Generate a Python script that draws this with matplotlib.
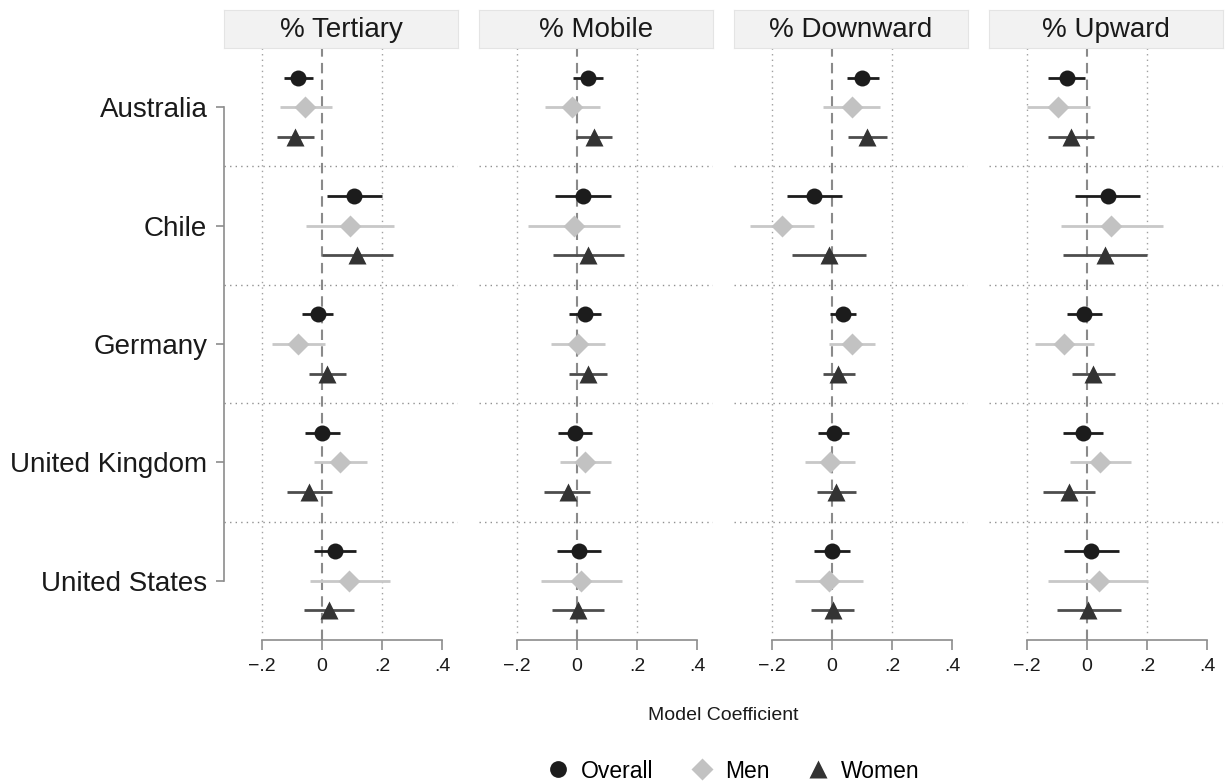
import numpy as np
import matplotlib.pyplot as plt
from matplotlib.lines import Line2D

plt.rcParams['font.family'] = ['Liberation Sans', 'DejaVu Sans']

# ===================== Data =====================
countries = ["Australia", "Chile", "Germany", "United Kingdom", "United States"]
groups = ["Overall", "Men", "Women"]
panels = ["% Tertiary", "% Mobile", "% Downward", "% Upward"]
xticks = [-0.2, 0.0, 0.2, 0.4]
xtick_labels = ["\u2212.2", "0", ".2", ".4"]

# values ordered by country, then overall / men / women
tertiary_est = [-0.079, -0.056, -0.089, 0.107, 0.092, 0.116, -0.014, -0.079, 0.017,
                0.000, 0.060, -0.043, 0.043, 0.091, 0.022]
tertiary_lo = [-0.128, -0.142, -0.149, 0.016, -0.054, 0.001, -0.066, -0.168, -0.044,
               -0.056, -0.028, -0.118, -0.028, -0.042, -0.062]
tertiary_hi = [-0.030, 0.033, -0.028, 0.200, 0.240, 0.236, 0.037, 0.010, 0.081,
               0.059, 0.149, 0.032, 0.114, 0.227, 0.107]

mobile_est = [0.036, -0.016, 0.056, 0.019, -0.010, 0.038, 0.026, 0.003, 0.036,
              -0.007, 0.028, -0.031, 0.006, 0.013, 0.002]
mobile_lo = [-0.014, -0.106, -0.003, -0.074, -0.162, -0.081, -0.026, -0.086, -0.028,
             -0.064, -0.058, -0.109, -0.066, -0.119, -0.082]
mobile_hi = [0.086, 0.076, 0.116, 0.113, 0.142, 0.158, 0.079, 0.093, 0.100,
             0.051, 0.114, 0.043, 0.080, 0.150, 0.089]

downward_est = [0.101, 0.066, 0.117, -0.059, -0.168, -0.010, 0.036, 0.066, 0.020,
                0.006, -0.007, 0.013, -0.002, -0.012, 0.003]
downward_lo = [0.048, -0.029, 0.052, -0.152, -0.273, -0.133, -0.006, -0.011, -0.032,
               -0.046, -0.090, -0.052, -0.062, -0.124, -0.070]
downward_hi = [0.156, 0.161, 0.183, 0.034, -0.061, 0.114, 0.080, 0.142, 0.076,
               0.056, 0.076, 0.080, 0.058, 0.103, 0.073]

upward_est = [-0.068, -0.098, -0.054, 0.069, 0.081, 0.059, -0.010, -0.077, 0.020,
              -0.013, 0.044, -0.059, 0.013, 0.038, 0.003]
upward_lo = [-0.130, -0.202, -0.130, -0.040, -0.088, -0.080, -0.068, -0.174, -0.050,
             -0.079, -0.058, -0.146, -0.077, -0.131, -0.102]
upward_hi = [-0.008, 0.008, 0.022, 0.176, 0.252, 0.199, 0.048, 0.022, 0.094,
             0.052, 0.146, 0.026, 0.106, 0.204, 0.112]

est_all = [tertiary_est, mobile_est, downward_est, upward_est]
lo_all = [tertiary_lo, mobile_lo, downward_lo, upward_lo]
hi_all = [tertiary_hi, mobile_hi, downward_hi, upward_hi]

# ===================== Styles =====================
marker_color = ['#1c1c1c', '#c2c2c2', '#333333']
line_color = ['#1c1c1c', '#c8c8c8', '#4d4d4d']
markers = ['o', 'D', '^']
msizes = [11.5, 11, 13]
axis_gray = '#8c8c8c'

W, H = 1229, 784
fig = plt.figure(figsize=(W / 100, H / 100), dpi=100)

y_top, y_bot = 48, 640
strip_top = 10
panel_w = 234
n_groups = len(groups)

for p, title in enumerate(panels):
    left = 224 + 255 * p
    ax = fig.add_axes([left / W, 1 - y_bot / H, panel_w / W, (y_bot - y_top) / H])
    ax.set_xlim(-0.327, 0.453)
    ax.set_ylim(20, 0)

    # grid / reference lines
    for gx in [-0.2, 0.2]:
        ax.plot([gx, gx], [0, 19.8], ls=(0, (1, 3)), color='#a0a0a0', lw=1.0, zorder=1)
    for sep in [4, 8, 12, 16]:
        ax.axhline(sep, ls=(0, (1, 3)), color='#909090', lw=1.0, zorder=1)
    ax.axvline(0, ls=(0, (5, 3)), color='#8a8a8a', lw=1.5, zorder=1)

    est, lo, hi = est_all[p], lo_all[p], hi_all[p]
    for c in range(len(countries)):
        for g in range(n_groups):
            i = c * n_groups + g
            y = c * 4 + g + 1
            ax.plot([lo[i], hi[i]], [y, y], color=line_color[g], lw=2.0,
                    solid_capstyle='butt', zorder=2)
            ax.plot(est[i], y, marker=markers[g], ms=msizes[g],
                    color=marker_color[g], mec='none', zorder=3)

    # axes styling
    for s in ['top', 'right']:
        ax.spines[s].set_visible(False)
    ax.spines['bottom'].set_color(axis_gray)
    ax.spines['bottom'].set_linewidth(1.2)
    ax.spines['bottom'].set_bounds(-0.2, 0.4)
    ax.set_xticks(xticks)
    ax.set_xticklabels(xtick_labels, fontsize=14, color='#1a1a1a')
    ax.tick_params(axis='x', direction='out', length=7, width=1.2,
                   color=axis_gray, pad=6)

    if p == 0:
        ax.spines['left'].set_color(axis_gray)
        ax.spines['left'].set_linewidth(1.2)
        ax.spines['left'].set_bounds(2, 18)
        ax.set_yticks([c * 4 + 2 for c in range(len(countries))])
        ax.set_yticklabels(countries, fontsize=20, color='#1a1a1a')
        ax.tick_params(axis='y', direction='out', length=6, width=1.2,
                       color=axis_gray, pad=6)
    else:
        ax.spines['left'].set_visible(False)
        ax.set_yticks([])

    # facet strip
    sax = fig.add_axes([left / W, 1 - y_top / H, panel_w / W, (y_top - strip_top) / H])
    sax.set_facecolor('#f2f2f2')
    for s in sax.spines.values():
        s.set_color('#e4e4e4')
    sax.set_xticks([])
    sax.set_yticks([])
    sax.text(0.5, 0.47, title, ha='center', va='center', fontsize=20,
             color='#1a1a1a', transform=sax.transAxes)

fig.text(723 / W, 1 - 716 / H, "Model Coefficient", ha='center', va='center',
         fontsize=14, color='#1a1a1a')

handles = [Line2D([], [], ls='none', marker=markers[g], ms=msizes[g] * 1.05,
                  color=marker_color[g], mec='none') for g in range(n_groups)]
fig.legend(handles, groups, loc='center', bbox_to_anchor=(733 / W, 1 - 771 / H),
           ncol=3, frameon=False, fontsize=16.5, handlelength=1.0,
           handletextpad=0.5, columnspacing=1.6)

plt.savefig("out.png", dpi=100)
